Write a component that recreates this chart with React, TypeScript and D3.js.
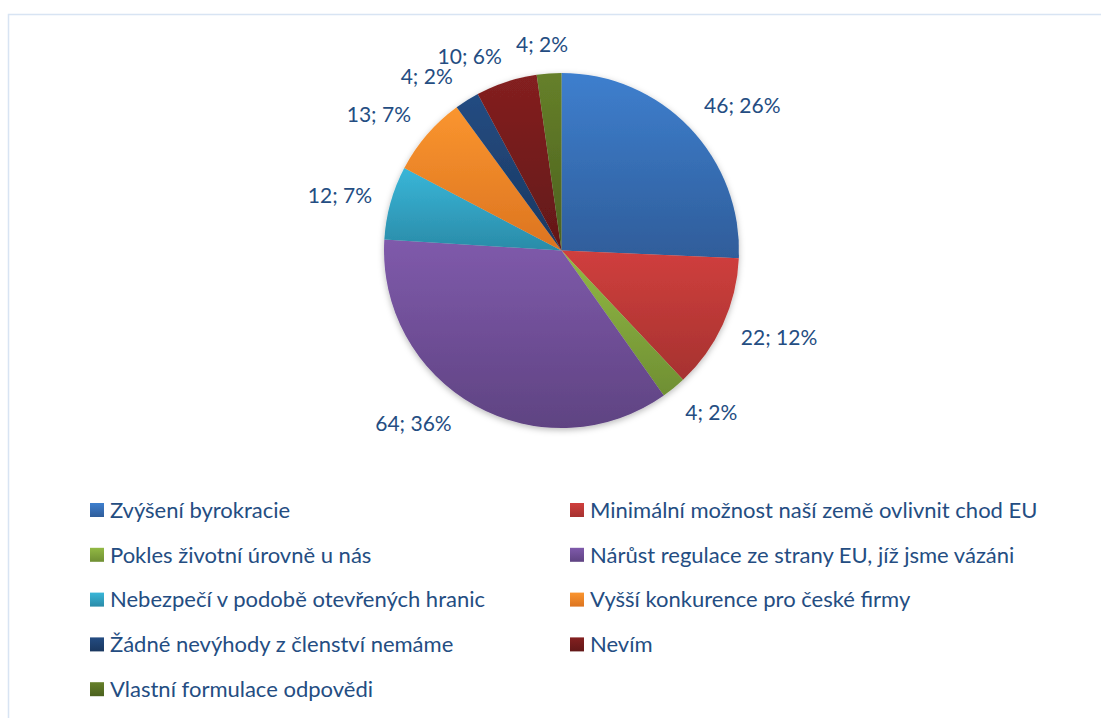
// App.tsx
// Pie chart of survey answers (count; share) with a two-column legend below.
import React, { useMemo } from 'react';
import { arc as d3Arc, pie as d3Pie, sum } from 'd3';

const categories = [
  'Zvýšení byrokracie',
  'Minimální možnost naší země ovlivnit chod EU',
  'Pokles životní úrovně u nás',
  'Nárůst regulace ze strany EU, jíž jsme vázáni',
  'Nebezpečí v podobě otevřených hranic',
  'Vyšší konkurence pro české firmy',
  'Žádné nevýhody z členství nemáme',
  'Nevím',
  'Vlastní formulace odpovědi',
];

const counts = [46, 22, 4, 64, 12, 13, 4, 10, 4];

// top / bottom colours of each slice's gradient
const colorsTop = ['#3e7fce', '#d03f3d', '#92b944', '#7f5aab', '#39b6d8', '#fa952f', '#244c82', '#842020', '#66802a'];
const colorsBottom = ['#2f5d9a', '#a63230', '#6f8f33', '#5f4382', '#2a8ba8', '#dc7420', '#1a375f', '#621818', '#4b611e'];

// Excel moved some labels a little around the rim (degrees)
const labelNudge = [0.5, -1, 0, 5, -1, -1, -1.6, -2.6, -0.5];

const WIDTH = 1101;
const HEIGHT = 718;
const CX = 561.5;
const CY = 250.5;
const R = 177.5;
const FONT = 'Lato, "Open Sans", sans-serif';
const TEXT = '#244d82';

const approxWidth = (s: string, size: number) => {
  let w = 0;
  for (const ch of s) {
    if (/[0-9]/.test(ch)) w += 0.58;
    else if (ch === '%') w += 0.86;
    else if (ch === ';') w += 0.24;
    else if (ch === ' ') w += 0.2;
    else w += 0.5;
  }
  return w * size;
};

const clamp1 = (v: number) => Math.max(-1, Math.min(1, v));

export default function App() {
  const total = sum(counts);

  const slices = useMemo(
    () =>
      d3Pie<number>()
        .sort(null)
        .value((d) => d)(counts),
    [],
  );

  const arcGen = d3Arc<any>().innerRadius(0).outerRadius(R);

  const labelSize = 21;
  const legendSize = 22;
  const legendTop = 510;
  const legendStep = 44.8;
  const legendCols = [90, 570];

  return (
    <div style={{ position: 'fixed', left: 0, top: 0 }}>
      <svg width={WIDTH} height={HEIGHT} style={{ display: 'block', background: '#fff' }}>
        <defs>
          {counts.map((_, i) => (
            <linearGradient key={i} id={`g${i}`} x1="0" y1="0" x2="0" y2="1">
              <stop offset="0%" stopColor={colorsTop[i]} />
              <stop offset="100%" stopColor={colorsBottom[i]} />
            </linearGradient>
          ))}
          <filter id="shadow" x="-20%" y="-20%" width="140%" height="140%">
            <feDropShadow dx="0" dy="2" stdDeviation="3" floodColor="#000" floodOpacity="0.28" />
          </filter>
        </defs>

        <rect x={8.5} y={14.5} width={WIDTH} height={HEIGHT} fill="none" stroke="#d8e4f3" strokeWidth={1.5} />

        <g transform={`translate(${CX},${CY})`}>
          <g filter="url(#shadow)">
            {slices.map((s, i) => (
              <path key={i} d={arcGen(s) || ''} fill={`url(#g${i})`} />
            ))}
          </g>
          {slices.map((s, i) => {
            const a = (s.startAngle + s.endAngle) / 2 + (labelNudge[i] * Math.PI) / 180;
            const ux = Math.sin(a);
            const uy = -Math.cos(a);
            const label = `${counts[i]}; ${Math.round((counts[i] / total) * 100)}%`;
            const w = approxWidth(label, labelSize);
            const h = labelSize;
            const dist = R + 18.5;
            const x = ux * dist + (clamp1(ux * 2) * w) / 2;
            const y = uy * dist + (clamp1(uy * 2) * h) / 2;
            return (
              <text
                key={i}
                x={x}
                y={y}
                dy="0.35em"
                textAnchor="middle"
                fontFamily={FONT}
                fontSize={labelSize}
                fill={TEXT}
              >
                {label}
              </text>
            );
          })}
        </g>

        <g>
          {categories.map((c, i) => {
            const col = i % 2;
            const row = Math.floor(i / 2);
            const x = legendCols[col];
            const y = legendTop + row * legendStep;
            return (
              <g key={i} transform={`translate(${x},${y})`}>
                <rect x={0} y={-7} width={14} height={14} fill={`url(#g${i})`} />
                <text x={20} y={0} dy="0.35em" fontFamily={FONT} fontSize={legendSize} fill={TEXT}>
                  {c}
                </text>
              </g>
            );
          })}
        </g>
      </svg>
    </div>
  );
}
